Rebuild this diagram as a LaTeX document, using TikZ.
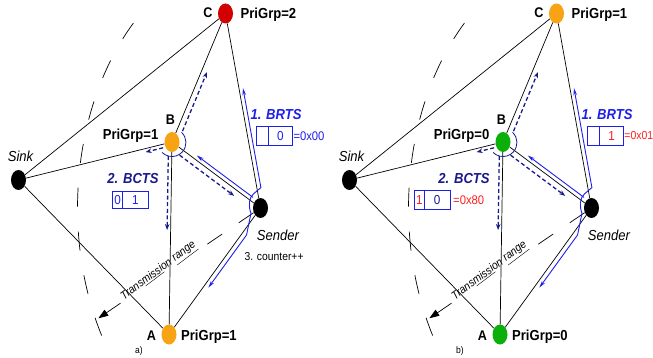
\documentclass[tikz,border=0pt]{standalone}
\usepackage{fontspec}
\setmainfont{Liberation Sans}[FakeStretch=0.9]
\usetikzlibrary{shapes.geometric,arrows.meta}
\definecolor{bl}{RGB}{30,30,235}
\definecolor{nv}{RGB}{25,25,140}
\definecolor{rd}{RGB}{210,0,0}
\definecolor{og}{RGB}{247,163,20}
\definecolor{gn}{RGB}{10,175,10}
\definecolor{tr}{RGB}{255,30,30}
\newcommand\fsz[1]{\fontsize{#1}{#1}\selectfont}
\tikzset{
  btip/.tip={Stealth[length=7pt,width=3.6pt]},
  nd/.style={ellipse, minimum width=15pt, minimum height=20pt, inner sep=0pt, draw=none},
  edge/.style={black, line width=0.7pt},
  lett/.style={font=\fsz{14}\bfseries, anchor=base, inner sep=0pt},
  grp/.style={font=\fsz{14.5}\bfseries, inner sep=0pt},
  nm/.style={font=\fsz{14.5}\itshape, anchor=base, inner sep=0pt},
  msg/.style={font=\fsz{14.5}\bfseries\itshape, anchor=base, inner sep=0pt},
  brts/.style={draw=bl, line width=0.9pt},
  bcts/.style={draw=nv, line width=1.3pt, dash pattern=on 4pt off 2.6pt, -{Stealth[length=6pt,width=4.6pt]}},
  bcarc/.style={draw=nv, line width=0.8pt},
  rangeln/.style={black, line width=0.7pt, dash pattern=on 18pt off 20pt on 18pt off 105pt on 40pt, -{Triangle[length=10pt,width=7pt]}},
  rangearc/.style={black, line width=0.7pt, dash pattern=on 19pt off 25pt},
  trtext/.style={font=\fsz{11.5}\itshape, inner sep=0pt},
  cell/.style={draw=bl, line width=0.7pt, inner sep=0pt, font=\fsz{13}},
  hexs/.style={font=\fsz{12.5}, inner sep=0pt, anchor=west},
}
% #1 prefix, #2 shift, #3 C colour, #4 B colour, #5 A colour, #6 #7 #8 groups
\newcommand\rtspanel[8]{%
\begin{scope}[shift={(#2,0)}]
  \node[nd,fill=#3] (#1C) at (225.5,13.5) {};
  \node[nd,fill=#4] (#1B) at (172,142) {};
  \node[nd,fill=black] (#1K) at (18.5,180) {};
  \node[nd,fill=black] (#1S) at (260.5,208) {};
  \node[nd,fill=#5] (#1A) at (169,334.5) {};
  \draw[edge] (#1K) -- (#1C);
  \draw[edge] (#1K) -- (#1B);
  \draw[edge] (#1K) -- (#1A);
  \draw[edge] (#1B) -- (#1C);
  \draw[edge] (#1B) -- (#1A);
  \draw[edge] (#1B) -- (#1S);
  \draw[edge] (#1C) -- (#1S);
  \draw[edge] (#1S) -- (#1A);
  % transmission range
  \draw[rangearc] (133.4,23.1) arc[start angle=226, end angle=147, x radius=183, y radius=257];
  \coordinate (#1rt) at (98.3,318.3);
  \draw[rangeln] (#1S) -- (#1rt);
  \node[trtext, rotate=37] (#1tt) at (159,271.5) {Trans\underline{missi}on \underline{range}};
  % labels
  \node[lett] (#1lC) at (208,18) {C};
  \node[grp,anchor=base west] (#1gC) at (240.5,19) {PriGrp=#6};
  \node[lett] (#1lB) at (170.5,125) {B};
  \node[grp,anchor=base east] (#1gB) at (158.5,140) {PriGrp=#7};
  \node[lett] (#1lA) at (151.3,340) {A};
  \node[grp,anchor=base west] (#1gA) at (181,340) {PriGrp=#8};
  \node[nm] (#1tK) at (20.5,162) {Sink};
  \node[nm] (#1tS) at (278,240.5) {Sender};
  \node[msg,text=bl] (#1t1) at (276,120) {1. BRTS};
  \node[msg,text=nv] (#1t2) at (133,183.3) {2. BCTS};
  % BRTS (blue)
  \coordinate (#1b1) at (243.0,88.2);
  \coordinate (#1b2) at (260.9,187.6);
  \coordinate (#1b3) at (251,213);
  \coordinate (#1b4) at (246.6,234.9);
  \coordinate (#1b5) at (208.4,287.6);
  \draw[brts,btip-btip] (#1b1) -- (#1b2) .. controls (256,192) and (250,195) .. (249.5,202)
      .. controls (249.2,207) and (249.8,210.5) .. (#1b3) -- (#1b4) -- (#1b5);
  \coordinate (#1b6) at (253,197.4);
  \coordinate (#1b7) at (196.8,155.5);
  \draw[brts,-btip] (#1b6) -- (#1b7);
  % BCTS (navy)
  \draw[bcarc] (181.5,132.3) arc[start angle=-47, end angle=135, radius=14];
  \coordinate (#1n1) at (182.5,131.2);
  \coordinate (#1n2) at (207,72.1);
  \coordinate (#1n3) at (163.1,147.8);
  \coordinate (#1n4) at (145.6,152.1);
  \coordinate (#1n5) at (168.3,156);
  \coordinate (#1n6) at (167.1,230);
  \coordinate (#1n7) at (179.6,155.2);
  \coordinate (#1n8) at (234.1,195.8);
  \draw[bcts] (#1n1) -- (#1n2);
  \draw[bcts] (#1n3) -- (#1n4);
  \draw[bcts] (#1n5) -- (#1n6);
  \draw[bcts] (#1n7) -- (#1n8);
\end{scope}}

\begin{document}
\begin{tikzpicture}[x=1pt,y=-1pt]
  \useasboundingbox (0,0) rectangle (653,358);
  \rtspanel{L}{0}{rd}{og}{og}{2}{1}{1}
  \rtspanel{R}{331}{og}{gn}{gn}{1}{0}{0}
  % left boxes
  \node[cell,minimum width=11.6pt,minimum height=18.3pt] (lr1) at (262.5,135.85) {};
  \node[cell,minimum width=24.4pt,minimum height=18.3pt,text=bl] (lr2) at (280.5,135.85) {0};
  \node[hexs,text=bl] (lrh) at (293.3,136) {=0x00};
  \node[cell,minimum width=10pt,minimum height=16.6pt,text=bl] (lc1) at (117.7,200) {0};
  \node[cell,minimum width=25.6pt,minimum height=16.6pt,text=bl] (lc2) at (135.5,200) {1};
  \node[font=\fsz{11.5}, anchor=base west, inner sep=0pt] (cnt) at (244.3,260.5) {3. counter++};
  \node[font=\fsz{9.5}, anchor=base, inner sep=0pt] (pa) at (139,353) {a)};
  % right boxes
  \node[cell,minimum width=11.6pt,minimum height=18.3pt] (rr1) at (593.5,135.85) {};
  \node[cell,minimum width=24.4pt,minimum height=18.3pt,text=tr] (rr2) at (611.5,135.85) {1};
  \node[hexs,text=tr,font=\fsz{11.6}] (rrh) at (624.2,136) {=0x01};
  \node[cell,minimum width=9.3pt,minimum height=18.6pt,text=tr] (rc1) at (419.35,200) {1};
  \node[cell,minimum width=26.3pt,minimum height=18.6pt,text=nv] (rc2) at (437.15,200) {0};
  \node[hexs,text=tr] (rch) at (453,200.5) {=0x80};
  \node[font=\fsz{9.5}, anchor=base, inner sep=0pt] (pb) at (460,353) {b)};
\end{tikzpicture}
\end{document}
